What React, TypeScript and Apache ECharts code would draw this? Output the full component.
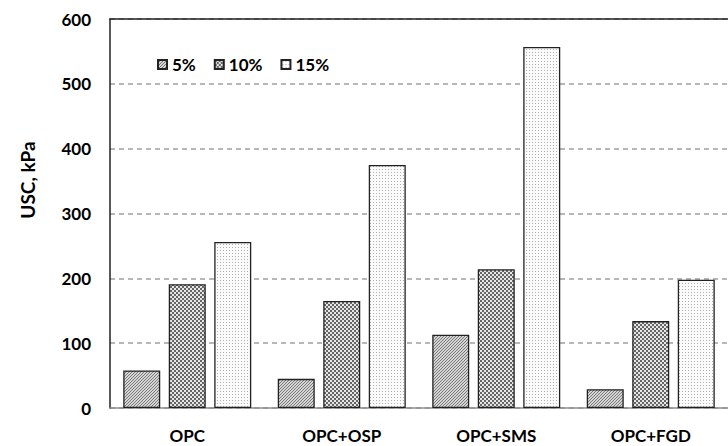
import React, { useEffect, useRef } from "react";
import * as echarts from "echarts";

const categories = ["OPC", "OPC+OSP", "OPC+SMS", "OPC+FGD"];
const seriesNames = ["5%", "10%", "15%"];
const values5 = [58, 45, 113, 29];
const values10 = [191, 165, 214, 134];
const values15 = [256, 375, 557, 198];
const yTicks = { min: 0, max: 600, interval: 100 };
const yName = "USC, kPa";

function makeTile(size: number, paint: (x: number, y: number) => string) {
  const c = document.createElement("canvas");
  c.width = size;
  c.height = size;
  const ctx = c.getContext("2d")!;
  for (let x = 0; x < size; x++) {
    for (let y = 0; y < size; y++) {
      ctx.fillStyle = paint(x, y);
      ctx.fillRect(x, y, 1, 1);
    }
  }
  return c;
}

export default function App() {
  const ref = useRef<HTMLDivElement>(null);
  useEffect(() => {
    if (!ref.current) return;
    const chart = echarts.init(ref.current, null, { renderer: "svg" });
    const font = "Lato, 'Open Sans', sans-serif";

    const diag = makeTile(3, (x, y) => ((x + y) % 3 === 2 ? "#7a7a7a" : "#d4d4d4"));
    const check = makeTile(4, (x, y) =>
      (Math.floor(x / 2) + Math.floor(y / 2)) % 2 === 0 ? "#666666" : "#e6e6e6"
    );
    const dots = makeTile(3, (x, y) => (x === 1 && y === 1 ? "#b0b0b0" : "#fbfbfb"));
    const patterns = [diag, check, dots];
    const data = [values5, values10, values15];

    chart.setOption({
      animation: false,
      grid: { left: 110, top: 19, bottom: 38, right: -8, containLabel: false },
      legend: {
        data: seriesNames,
        left: 138,
        top: 46,
        padding: [10, 12, 10, 19],
        backgroundColor: "#ffffff",
        icon: "rect",
        itemWidth: 9,
        itemHeight: 9,
        itemGap: 18,
        selectedMode: false,
        textStyle: { fontFamily: font, fontWeight: "bold", fontSize: 17, color: "#000" },
      },
      xAxis: [
        {
          type: "category",
          data: categories,
          position: "bottom",
          axisLine: { show: true, lineStyle: { color: "#8c8c8c", width: 1.5 } },
          axisTick: { show: false },
          axisLabel: {
            margin: 19,
            color: "#000",
            fontFamily: font,
            fontWeight: "bold",
            fontSize: 17,
          },
        },
        {
          type: "category",
          data: categories,
          position: "top",
          axisLine: { show: true, lineStyle: { color: "#222", width: 1.5 } },
          axisTick: { show: false },
          axisLabel: { show: false },
        },
      ],
      yAxis: {
        type: "value",
        min: yTicks.min,
        max: yTicks.max,
        interval: yTicks.interval,
        axisLine: { show: true, lineStyle: { color: "#222", width: 1.5 } },
        axisTick: { show: false },
        axisLabel: {
          margin: 19,
          color: "#000",
          fontFamily: font,
          fontWeight: "bold",
          fontSize: 17,
        },
        splitLine: {
          show: true,
          lineStyle: { color: "#a0a0a0", width: 1.5, type: [5, 4] },
        },
      },
      graphic: [
        {
          type: "text",
          x: 27,
          y: 180,
          rotation: Math.PI / 2,
          style: {
            text: yName,
            fontFamily: font,
            fontWeight: "bold",
            fontSize: 19,
            fill: "#000",
            align: "center",
            verticalAlign: "middle",
          },
        },
      ],
      series: seriesNames.map((name, i) => ({
        name,
        type: "bar",
        xAxisIndex: 0,
        data: data[i],
        barWidth: 37,
        barGap: "23%",
        itemStyle: {
          color: { image: patterns[i], repeat: "repeat" },
          borderColor: "#222",
          borderWidth: 1.3,
        },
      })),
    });
    return () => chart.dispose();
  }, []);
  return (
    <div
      ref={ref}
      style={{ position: "absolute", left: 0, top: 0, width: 728, height: 446, background: "#fff" }}
    />
  );
}
